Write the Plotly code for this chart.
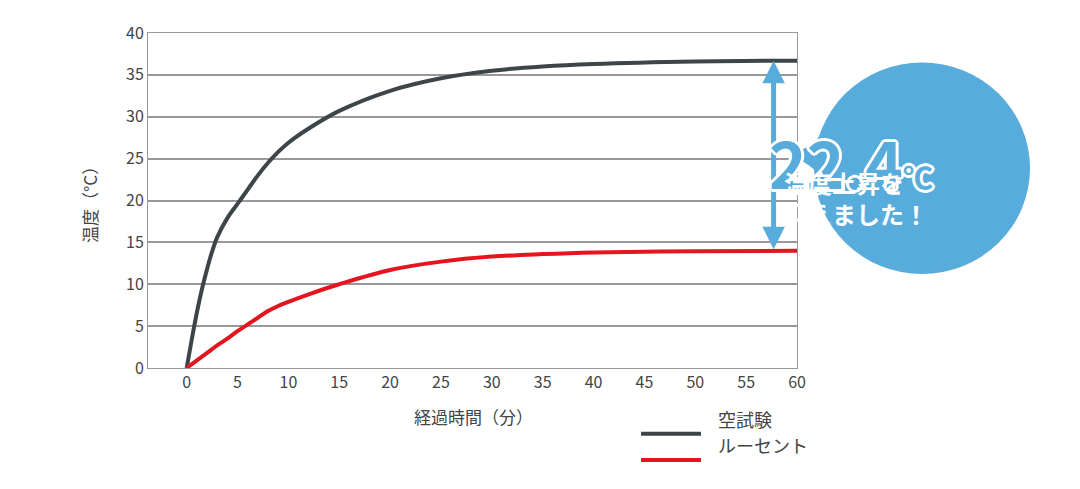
import plotly.graph_objects as go

x_min = [0, 0.5, 1, 1.5, 2, 2.5, 3, 4, 5, 6, 7, 8, 9, 10, 12, 15, 20, 25, 30, 35, 40, 50, 60]
blank = [0, 3.4, 6.6, 9.4, 11.8, 13.9, 15.6, 17.9, 19.6, 21.3, 23.0, 24.5, 25.8, 26.9, 28.6, 30.7, 33.1, 34.6, 35.5, 36.0, 36.3, 36.6, 36.7]
lucent = [0, 0.45, 0.9, 1.35, 1.8, 2.25, 2.7, 3.5, 4.4, 5.2, 6.0, 6.8, 7.4, 7.9, 8.8, 10.0, 11.7, 12.7, 13.3, 13.6, 13.8, 13.95, 14.0]
x_ticks = list(range(0, 61, 5))
y_ticks = list(range(0, 41, 5))

L, R, T, B = 148, 797, 26, 368
OFF = 8
def px(x): return (x - L) / (R - L)
def py(y): return (B - y) / (B - T)

blue = "#58acdc"
fig = go.Figure()
fig.add_trace(go.Scatter(x=x_min, y=blank, mode="lines", line=dict(color="#3c4548", width=4, shape="spline", smoothing=1), name="空試験"))
fig.add_trace(go.Scatter(x=x_min, y=lucent, mode="lines", line=dict(color="#e3151e", width=4, shape="spline", smoothing=1), name="ルーセント"))

fig.update_layout(
    width=1080, height=489, margin=dict(l=L - OFF, r=1080 - R + OFF, t=T - OFF, b=489 - B + OFF),
    plot_bgcolor="white", paper_bgcolor="white", showlegend=False,
    font=dict(family="Noto Sans CJK JP", color="#444", size=16),
    xaxis=dict(range=[-3.8, 60], tickvals=x_ticks, showgrid=False, zeroline=False,
               showline=True, linecolor="#999", mirror=True, ticks="", tickfont=dict(size=16, color="#444")),
    yaxis=dict(range=[0, 40], tickvals=y_ticks, showgrid=True, gridcolor="#999", gridwidth=1.5, zeroline=False,
               showline=True, linecolor="#999", mirror=True, ticks="", tickfont=dict(size=16, color="#444")),
)
fig.add_annotation(text="経過時間（分）", x=px(473), y=py(432), xref="paper", yref="paper", showarrow=False, font=dict(size=17, color="#444"))
fig.add_annotation(text="温度（°C）", x=px(75), y=py(197), xref="paper", yref="paper", showarrow=False, textangle=-90, font=dict(size=17, color="#444"))
for yy, c, t in [(435, "#3c4548", "空試験"), (462, "#e3151e", "ルーセント")]:
    fig.add_shape(type="line", xref="paper", yref="paper", x0=px(641), x1=px(701), y0=py(yy), y1=py(yy), line=dict(color=c, width=4))
    fig.add_annotation(text=t, x=px(716), y=py(yy), xref="paper", yref="paper", xanchor="left", showarrow=False, font=dict(size=18, color="#444"))
fig.add_annotation(x=57.7, y=blank[-1], ax=57.7, ay=lucent[-1], xref="x", yref="y", axref="x", ayref="y",
                   showarrow=True, arrowhead=2, arrowside="end+start", arrowsize=0.9, arrowwidth=5, arrowcolor=blue, text="")
cx, cy, r = 922, 164, 108
fig.add_shape(type="circle", xref="paper", yref="paper", x0=px(cx - r), x1=px(cx + r), y0=py(cy - r), y1=py(cy + r),
              fillcolor=blue, line=dict(width=0), layer="above")
fig.add_shape(type="path", xref="paper", yref="paper", layer="above", fillcolor=blue, line=dict(width=0),
              path=f"M {px(822)} {py(125)} Q {px(815)} {py(145)} {px(788)} {py(148)} Q {px(810)} {py(160)} {px(825)} {py(175)} Z")
sh = "2px 2px 0 white, -2px -2px 0 white, 2px -2px 0 white, -2px 2px 0 white, 0 3px 0 white, 0 -3px 0 white, 3px 0 0 white, -3px 0 0 white"
fig.add_annotation(text="<b>22.4</b><b><span style='font-size:30px'>℃</span></b>", x=px(935), y=py(108), xref="paper", yref="paper", showarrow=False,
                   font=dict(size=64, color=blue, family="Noto Sans CJK JP", shadow=sh))
fig.add_annotation(text="<b>温度上昇を<br>抑えました！</b>", x=px(930), y=py(194), xref="paper", yref="paper", showarrow=False,
                   align="left", font=dict(size=24, color="white"))
fig.write_html("out.html")
